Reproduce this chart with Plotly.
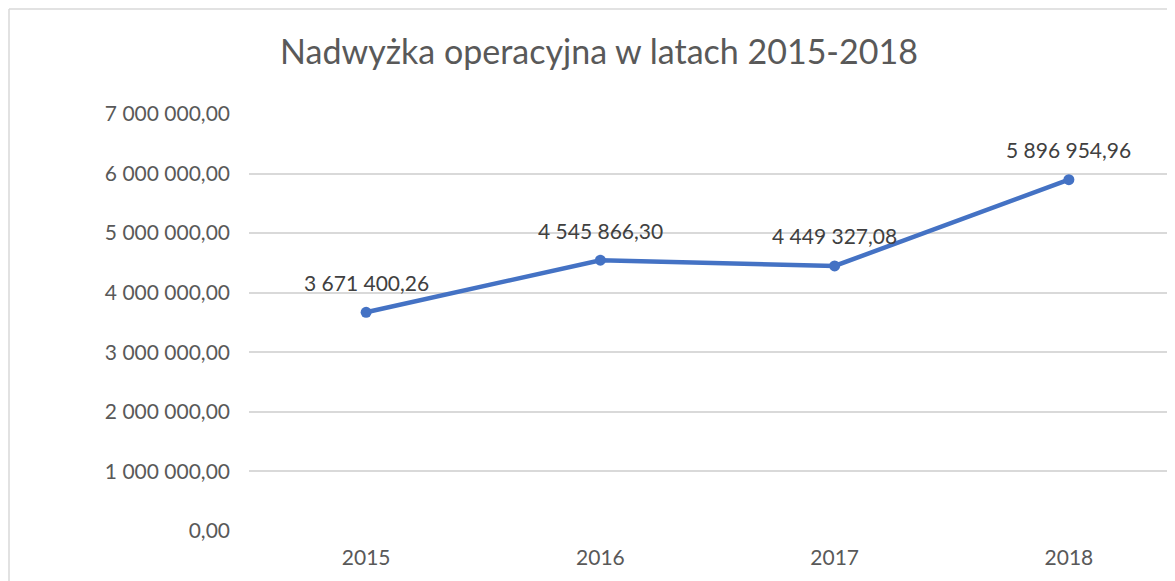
import plotly.graph_objects as go

years = ["2015", "2016", "2017", "2018"]
values = [3671400.26, 4545866.30, 4449327.08, 5896954.96]
value_labels = ["3 671 400,26", "4 545 866,30", "4 449 327,08", "5 896 954,96"]
tick_vals = [0, 1e6, 2e6, 3e6, 4e6, 5e6, 6e6, 7e6]
tick_text = ["0,00", "1 000 000,00", "2 000 000,00", "3 000 000,00",
             "4 000 000,00", "5 000 000,00", "6 000 000,00", "7 000 000,00"]

FONT = "Lato"
OFF = 8  # page body margin
W, H = 1175, 581
L, R, T, B = 249 - OFF, 0, 114 - OFF, 50 + OFF
pw, ph = W - L - R, H - T - B

fig = go.Figure()
fig.add_trace(go.Scatter(
    x=list(range(len(years))), y=values, mode="lines+markers",
    line=dict(color="#4472C4", width=4.5),
    marker=dict(color="#4472C4", size=11),
    hoverinfo="skip", showlegend=False,
))

for i, (v, lab) in enumerate(zip(values, value_labels)):
    fig.add_annotation(x=i, y=v, text=lab, showarrow=False, yshift=30,
                       font=dict(family=FONT, size=21, color="#404040"))

# chart border (top and left visible)
bx = (9 - OFF - L) / pw
by = 1 + (T - (9 - OFF)) / ph
fig.add_shape(type="line", xref="paper", yref="paper", x0=bx, x1=1.2, y0=by, y1=by,
              line=dict(color="#D9D9D9", width=1.5))
fig.add_shape(type="line", xref="paper", yref="paper", x0=bx, x1=bx, y0=by, y1=-0.3,
              line=dict(color="#D9D9D9", width=1.5))

# plot area ends at x=1186 in the reference (page coords); width of figure region shown
right_cat = 3.5 - (1186 - 1175) / 234 + OFF / 234

fig.update_layout(
    width=W, height=H,
    margin=dict(l=L, r=R, t=T, b=B),
    paper_bgcolor="white", plot_bgcolor="white",
    title=dict(text="Nadwyżka operacyjna w latach 2015-2018", x=(599 - OFF) / W, xanchor="center",
               y=1 - (52 - OFF) / H, yanchor="middle",
               font=dict(family=FONT, size=34, color="#595959")),
    xaxis=dict(range=[-0.5, right_cat], tickvals=list(range(len(years))), ticktext=years,
               showgrid=False, zeroline=False, showline=False, ticks="",
               tickfont=dict(family=FONT, size=21, color="#595959"), ticklabelstandoff=12),
    yaxis=dict(range=[0, 7e6], tickvals=tick_vals, ticktext=tick_text,
               showgrid=True, gridcolor="#D9D9D9", gridwidth=1.5, zeroline=False,
               showline=False, ticks="",
               tickfont=dict(family=FONT, size=21, color="#595959"), ticklabelstandoff=18),
)

fig.write_html("out.html")
